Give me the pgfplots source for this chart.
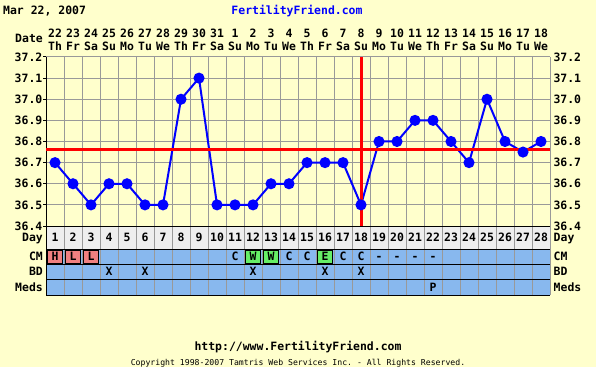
\documentclass[border=0pt]{standalone}
\usepackage{pgfplots}
\usepackage{pgfplotstable}
\pgfplotsset{compat=1.18}
\usepackage{fontspec}
\setmonofont{DejaVu Sans Mono}
\definecolor{cream}{RGB}{255,255,204}
\definecolor{rowblue}{RGB}{136,184,238}
\definecolor{dayrow}{RGB}{238,238,238}
\definecolor{cmpink}{RGB}{240,128,128}
\definecolor{cmgreen}{RGB}{102,238,102}
\definecolor{gridgray}{RGB}{153,153,153}
\newcommand{\mf}{\fontsize{11.5}{13}\selectfont\ttfamily\bfseries}

\pgfplotstableread{
x y
1 36.7
2 36.6
3 36.5
4 36.6
5 36.6
6 36.5
7 36.5
8 37.0
9 37.1
10 36.5
11 36.5
12 36.5
13 36.6
14 36.6
15 36.7
16 36.7
17 36.7
18 36.5
19 36.8
20 36.8
21 36.9
22 36.9
23 36.8
24 36.7
25 37.0
26 36.8
27 36.75
28 36.8
}\temps

\pgfplotstableread{
x y
1 38.5
2 38.5
3 38.5
}\pinkcells

\pgfplotstableread{
x y
12 38.5
13 38.5
16 38.5
}\greencells

\pgfplotsset{
  ffgrid/.style={
    scale only axis, anchor=south west, width=504bp,
    xmin=0.5, xmax=28.5,
    xtick={0.5,1.5,...,28.5}, xticklabels={},
    xtick style={draw=none},
    x grid style={gridgray, line width=1bp},
    xmajorgrids,
    axis line style={black, line width=1bp},
    axis x line*=bottom, axis y line*=left,
    clip=false,
  },
}

\begin{document}
\begin{tikzpicture}[x=1bp,y=1bp]
\fill[cream] (0,0) rectangle (596,367);
\useasboundingbox (0,0) rectangle (596,367);

% titles
\node[font=\mf, anchor=base west, inner sep=0pt] at (3,353) {Mar 22, 2007};
\node[font=\mf, text=blue, anchor=base, inner sep=0pt] at (297,353) {FertilityFriend.com};
\node[font=\mf, anchor=base east, inner sep=0pt] at (43,324.3) {Date};
\foreach \d/\w [count=\i] in {22/Th,23/Fr,24/Sa,25/Su,26/Mo,27/Tu,28/We,29/Th,30/Fr,31/Sa,1/Su,2/Mo,3/Tu,4/We,5/Th,6/Fr,7/Sa,8/Su,9/Mo,10/Tu,11/We,12/Th,13/Fr,14/Sa,15/Su,16/Mo,17/Tu,18/We}{
  \node[font=\mf, anchor=base, inner sep=0pt] at ({37+18*\i},329.7) {\d};
  \node[font=\mf, anchor=base, inner sep=0pt] at ({37+18*\i},317) {\w};
}

% temperature axis
\begin{axis}[ffgrid,
  at={(46bp,141bp)}, height=169bp,
  ymin=36.4, ymax=37.2,
  ytick={36.4,36.5,36.6,36.7,36.8,36.9,37.0,37.1,37.2},
  y grid style={gridgray, line width=1bp},
  ymajorgrids,
  ytick style={black, line width=1bp},
  tick align=outside, major tick length=3bp,
  yticklabel style={font=\mf, anchor=east, inner sep=0pt, xshift=-0.5bp,
    /pgf/number format/.cd, fixed, fixed zerofill, precision=1, assume math mode=true},
]
\addplot[blue, line width=2bp, mark=*, mark size=4.5bp, mark options={solid, fill=blue}] table {\temps};
\addplot[red, line width=3bp] coordinates {(0.5,36.76) (28.5,36.76)};
\addplot[red, line width=3bp] coordinates {(18,36.4) (18,37.2)};
\pgfplotsinvokeforeach{36.4,36.5,36.6,36.7,36.8,36.9,37.0,37.1,37.2}{
  \node[font=\mf, anchor=west, inner sep=0pt, xshift=3.3bp] at (axis cs:28.5,#1) {#1};
}
\end{axis}

% day row
\begin{axis}[ffgrid,
  at={(46bp,118bp)}, height=23bp,
  ymin=0, ymax=23,
  ytick={0,23}, yticklabels={}, ytick style={draw=none},
  y grid style={black, line width=1bp}, ymajorgrids,
  axis background/.style={fill=dayrow},
]
\end{axis}

% CM / BD / Meds rows
\begin{axis}[ffgrid,
  at={(46bp,72bp)}, height=46bp,
  ymin=0, ymax=46,
  ytick={0,16,31,46}, yticklabels={}, ytick style={draw=none},
  y grid style={black, line width=1bp}, ymajorgrids,
  axis background/.style={fill=rowblue},
]
\addplot[only marks, mark=square*, mark size=6.5bp, mark options={xscale=1.154, draw=none, fill=cmpink}] table {\pinkcells};
\addplot[only marks, mark=square*, mark size=6.5bp, mark options={xscale=1.154, draw=none, fill=cmgreen}] table {\greencells};
\end{axis}

% row texts
\foreach \i in {1,...,28}{
  \node[font=\mf, anchor=base, inner sep=0pt] at ({37+18*\i},125.3) {\i};
}
\foreach \i/\t in {1/H,2/L,3/L,11/C,12/W,13/W,14/C,15/C,16/E,17/C,18/C,19/-,20/-,21/-,22/-}{
  \node[font=\mf, anchor=base, inner sep=0pt] at ({37+18*\i},106.3) {\t};
}
\foreach \i in {4,6,12,16,18}{
  \node[font=\mf, anchor=base, inner sep=0pt] at ({37+18*\i},91.3) {X};
}
\node[font=\mf, anchor=base, inner sep=0pt] at ({37+18*22},75.8) {P};

% row labels
\foreach \lab/\yy in {Day/125.3, CM/106.3, BD/91.3, Meds/75.8}{
  \node[font=\mf, anchor=base east, inner sep=0pt] at (43,\yy) {\lab};
  \node[font=\mf, anchor=base west, inner sep=0pt] at (553.5,\yy) {\lab};
}

% footer
\node[font=\mf, anchor=base, inner sep=0pt] at (298,17) {http://www.FertilityFriend.com};
\node[font=\fontsize{8.2}{9}\selectfont\ttfamily, anchor=base, inner sep=0pt] at (298,1.5) {Copyright 1998-2007 Tamtris Web Services Inc. - All Rights Reserved.};
\end{tikzpicture}
\end{document}
